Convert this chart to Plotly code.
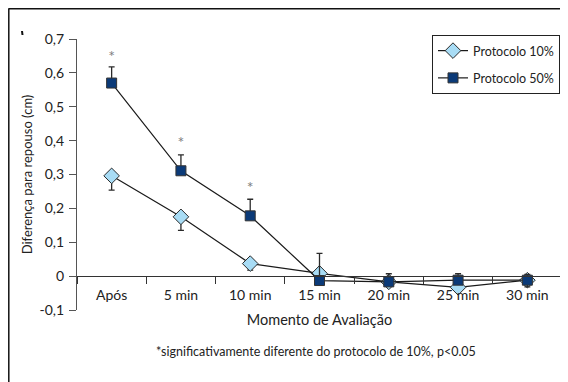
import plotly.graph_objects as go

categories = ["Após", "5 min", "10 min", "15 min", "20 min", "25 min", "30 min"]
p10 = [0.296, 0.175, 0.037, 0.008, -0.017, -0.033, -0.012]
p10_err_plus = [0, 0, 0, 0, 0, 0, 0]
p10_err_minus = [0.042, 0.040, 0.019, 0, 0, 0, 0]
p50 = [0.570, 0.311, 0.178, -0.013, -0.017, -0.012, -0.012]
p50_err_plus = [0.048, 0.047, 0.049, 0.080, 0.024, 0.019, 0.017]
p50_err_minus = [0, 0, 0, 0, 0.010, 0, 0.020]
star_cats = ["Após", "5 min", "10 min"]
star_y = [0.645, 0.39, 0.258]
y_ticks = [-0.1, 0, 0.1, 0.2, 0.3, 0.4, 0.5, 0.6, 0.7]
y_tick_text = ["-0,1", "0", "0,1", "0,2", "0,3", "0,4", "0,5", "0,6", "0,7"]

FONT = "Lato, 'Open Sans', sans-serif"

# The page body has an 8px margin, so the figure is drawn 8px in and down.
OFF = 8
W, H = 568 - OFF, 382 - OFF
# plot area in screen pixels: left 77, right 562, top 39, bottom 310
L, R, T, B = 77 - OFF, 562 - OFF, 39 - OFF, 310 - OFF
PW, PH = R - L, B - T


def px(x):
    return (x - OFF - L) / PW


def py(y):
    return (B - (y - OFF)) / PH


fig = go.Figure()
fig.add_trace(go.Scatter(
    x=categories, y=p10, name="Protocolo 10%", mode="lines+markers", legendgroup="a",
    line=dict(color="#1a1a1a", width=1.2),
    marker=dict(symbol="diamond", size=12, color="#a8dcf5", line=dict(color="#2a2a2a", width=1)),
    error_y=dict(type="data", symmetric=False, array=p10_err_plus, arrayminus=p10_err_minus,
                 color="#2a2a2a", thickness=1.3, width=3),
))
fig.add_trace(go.Scatter(
    x=categories, y=p50, name="Protocolo 50%", mode="lines+markers", legendgroup="b",
    line=dict(color="#1a1a1a", width=1.2),
    marker=dict(symbol="square", size=10, color="#0b3a78", line=dict(color="#333333", width=1)),
    error_y=dict(type="data", symmetric=False, array=p50_err_plus, arrayminus=p50_err_minus,
                 color="#2a2a2a", thickness=1.3, width=3),
))
fig.add_trace(go.Scatter(
    x=star_cats, y=star_y, mode="text", text=["*"] * len(star_cats),
    textfont=dict(family=FONT, size=16, color="#808080"), showlegend=False, hoverinfo="skip",
))

fig.update_layout(
    width=W, height=H,
    margin=dict(l=L, r=W - R, t=T, b=H - B, autoexpand=False),
    paper_bgcolor="white", plot_bgcolor="white",
    font=dict(family=FONT, size=14, color="#222222"),
    showlegend=True,
    legend=dict(x=px(560), y=py(35), xanchor="right", yanchor="top",
                bordercolor="#222222", borderwidth=1, bgcolor="white",
                font=dict(family=FONT, size=12.5, color="#222222"),
                tracegroupgap=8, itemwidth=30),
    xaxis=dict(
        type="category", categoryorder="array", categoryarray=categories,
        range=[-0.5, 6.5], tickson="boundaries", ticks="outside", ticklen=7,
        tickcolor="#333333", tickwidth=1.2,
        showline=True, linecolor="#333333", linewidth=1.2,
        showgrid=False, zeroline=False, automargin=False,
        anchor="free", position=0.125,
        tickfont=dict(size=14), ticklabelstandoff=6,
        title=dict(text="Momento de Avaliação", font=dict(size=14.5), standoff=12),
    ),
    yaxis=dict(
        range=[-0.1, 0.7], tickvals=y_ticks, ticktext=y_tick_text,
        ticks="outside", ticklen=7, tickcolor="#555555", tickwidth=1.2,
        showline=True, linecolor="#555555", linewidth=1.2,
        showgrid=False, zeroline=False, automargin=False,
        tickfont=dict(size=14), ticklabelstandoff=2,
        title=dict(text="Diferença para repouso (cm)", font=dict(size=13), standoff=3),
    ),
    annotations=[
        dict(text="*significativamente diferente do protocolo de 10%, p<0.05",
             xref="paper", yref="paper", x=px(316), y=py(351), showarrow=False,
             font=dict(family=FONT, size=12.5, color="#222222"), xanchor="center", yanchor="middle"),
    ],
    shapes=[
        dict(type="line", xref="paper", yref="paper", x0=px(8.5), x1=px(570),
             y0=py(8.8), y1=py(8.8), line=dict(color="#111111", width=1.5)),
        dict(type="line", xref="paper", yref="paper", x0=px(8.8), x1=px(8.8),
             y0=py(8.5), y1=py(385), line=dict(color="#111111", width=1.5)),
        dict(type="line", xref="paper", yref="paper", x0=px(22), x1=px(22.5),
             y0=py(31), y1=py(35), line=dict(color="#111111", width=2)),
    ],
)

fig.write_html("out.html")
